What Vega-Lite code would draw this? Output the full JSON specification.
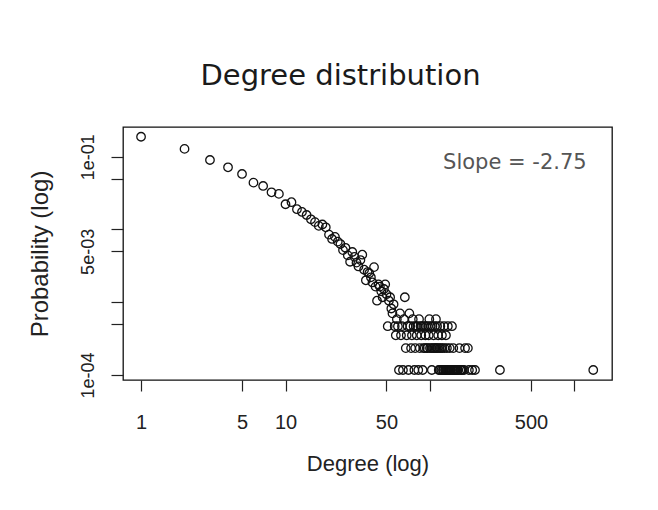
{
  "$schema": "https://vega.github.io/schema/vega-lite/v6.json",
  "width": 489,
  "height": 253,
  "autosize": "none",
  "padding": {"left": 123, "top": 127, "right": 46, "bottom": 130},
  "background": "white",
  "config": {"view": {"stroke": "#111", "strokeWidth": 1.3}},
  "title": {"text": "Degree distribution", "font": "DejaVu Sans", "fontSize": 29, "fontWeight": "normal", "color": "#1a1a1a", "anchor": "middle", "dx": -27, "offset": 36},
  "layer": [
    {
      "data": {"values": [
        {"degree":1,"probability":0.188},{"degree":2,"probability":0.128},{"degree":3,"probability":0.0901},{"degree":4,"probability":0.0715},{"degree":5,"probability":0.0579},{"degree":6,"probability":0.044},{"degree":7,"probability":0.0396},{"degree":8,"probability":0.0324},{"degree":9,"probability":0.0308},{"degree":10,"probability":0.0222},{"degree":11,"probability":0.0237},{"degree":12,"probability":0.019},{"degree":13,"probability":0.0174},{"degree":14,"probability":0.0158},{"degree":15,"probability":0.0138},{"degree":16,"probability":0.0126},{"degree":17,"probability":0.0112},{"degree":18,"probability":0.0117},{"degree":19,"probability":0.0107},{"degree":20,"probability":0.0085},{"degree":21,"probability":0.0074},{"degree":22,"probability":0.0079},{"degree":23,"probability":0.0068},{"degree":24,"probability":0.0063},{"degree":25,"probability":0.0052},{"degree":26,"probability":0.0056},{"degree":27,"probability":0.0044},{"degree":28,"probability":0.0036},{"degree":29,"probability":0.0049},{"degree":30,"probability":0.0042},{"degree":31,"probability":0.0035},{"degree":32,"probability":0.0031},{"degree":33,"probability":0.0038},{"degree":34,"probability":0.0045},{"degree":35,"probability":0.0028},{"degree":36,"probability":0.002},{"degree":37,"probability":0.0026},{"degree":38,"probability":0.0025},{"degree":39,"probability":0.0022},
        {"degree":40,"probability":0.00187},{"degree":41,"probability":0.00304},{"degree":42,"probability":0.00164},{"degree":43,"probability":0.00105},{"degree":44,"probability":0.00176},{"degree":45,"probability":0.00164},{"degree":46,"probability":0.00141},{"degree":47,"probability":0.00117},{"degree":48,"probability":0.00152},{"degree":49,"probability":0.00176},{"degree":50,"probability":0.00129},{"degree":51,"probability":0.000468},{"degree":52,"probability":0.00105},{"degree":53,"probability":0.00117},{"degree":54,"probability":0.00082},{"degree":55,"probability":0.000703},{"degree":56,"probability":0.000937},{"degree":57,"probability":0.000468},{"degree":58,"probability":0.000351},{"degree":59,"probability":0.000585},{"degree":60,"probability":0.000468},
        {"degree":61,"probability":0.000117},{"degree":62,"probability":0.000703},{"degree":63,"probability":0.000351},{"degree":64,"probability":0.000468},{"degree":65,"probability":0.000117},{"degree":66,"probability":0.000585},{"degree":67,"probability":0.00117},{"degree":68,"probability":0.000234},{"degree":69,"probability":0.000351},{"degree":70,"probability":0.000468},{"degree":71,"probability":0.000117},{"degree":72,"probability":0.000703},{"degree":73,"probability":0.000468},{"degree":74,"probability":0.000234},{"degree":75,"probability":0.000351},{"degree":76,"probability":0.000585},{"degree":77,"probability":0.000468},{"degree":78,"probability":0.000117},{"degree":79,"probability":0.000234},{"degree":80,"probability":0.000468},
        {"degree":81,"probability":0.000351},{"degree":82,"probability":0.000468},{"degree":83,"probability":0.000117},{"degree":84,"probability":0.000585},{"degree":85,"probability":0.000234},{"degree":86,"probability":0.000468},{"degree":87,"probability":0.000351},{"degree":88,"probability":0.000468},{"degree":89,"probability":0.000117},{"degree":90,"probability":0.000234},{"degree":91,"probability":0.000468},{"degree":92,"probability":0.000234},{"degree":93,"probability":0.000351},{"degree":94,"probability":0.000468},{"degree":95,"probability":0.000234},{"degree":96,"probability":0.000234},{"degree":97,"probability":0.000468},{"degree":98,"probability":0.000351},{"degree":99,"probability":0.000585},{"degree":100,"probability":0.000234},
        {"degree":101,"probability":0.000468},{"degree":102,"probability":0.000234},{"degree":103,"probability":0.000117},{"degree":104,"probability":0.000468},{"degree":105,"probability":0.000234},{"degree":106,"probability":0.000351},{"degree":107,"probability":0.000234},{"degree":108,"probability":0.000468},{"degree":109,"probability":0.000234},{"degree":110,"probability":0.000585},{"degree":111,"probability":0.000234},{"degree":112,"probability":0.000468},{"degree":113,"probability":0.000234},{"degree":114,"probability":0.000351},{"degree":115,"probability":0.000117},{"degree":116,"probability":0.000234},{"degree":117,"probability":0.000117},{"degree":118,"probability":0.000468},{"degree":119,"probability":0.000234},{"degree":120,"probability":0.000117},
        {"degree":121,"probability":0.000351},{"degree":122,"probability":0.000234},{"degree":123,"probability":0.000117},{"degree":124,"probability":0.000117},{"degree":125,"probability":0.000468},{"degree":126,"probability":0.000234},{"degree":127,"probability":0.000117},{"degree":128,"probability":0.000117},{"degree":129,"probability":0.000351},{"degree":130,"probability":0.000117},{"degree":131,"probability":0.000234},{"degree":132,"probability":0.000117},{"degree":133,"probability":0.000468},{"degree":134,"probability":0.000117},{"degree":135,"probability":0.000117},{"degree":136,"probability":0.000117},{"degree":137,"probability":0.000234},{"degree":138,"probability":0.000117},{"degree":139,"probability":0.000117},{"degree":140,"probability":0.000117},
        {"degree":142,"probability":0.000468},{"degree":143,"probability":0.000117},{"degree":145,"probability":0.000234},{"degree":146,"probability":0.000117},{"degree":148,"probability":0.000117},{"degree":150,"probability":0.000117},{"degree":152,"probability":0.000117},{"degree":155,"probability":0.000117},{"degree":157,"probability":0.000117},{"degree":160,"probability":0.000234},{"degree":162,"probability":0.000117},{"degree":165,"probability":0.000117},{"degree":168,"probability":0.000117},{"degree":172,"probability":0.000117},{"degree":175,"probability":0.000234},{"degree":183,"probability":0.000234},{"degree":186,"probability":0.000117},{"degree":196,"probability":0.000117},{"degree":205,"probability":0.000117},{"degree":305,"probability":0.000117},{"degree":1350,"probability":0.000117}
      ]},
      "mark": {"type": "point", "shape": "circle", "filled": false, "stroke": "#111", "strokeWidth": 1.3, "size": 72, "opacity": 1},
      "encoding": {
        "x": {"field": "degree", "type": "quantitative",
              "scale": {"type": "log", "domain": [0.75, 1820], "nice": false, "zero": false},
              "axis": {"title": "Degree (log)", "values": [1, 5, 10, 50, 100, 500, 1000], "format": "d",
                       "labelExpr": "(datum.value == 100 || datum.value == 1000) ? '' : datum.label",
                       "domain": false, "grid": false, "tickSize": 11, "tickColor": "#222", "tickWidth": 1.2,
                       "labelFont": "Liberation Sans", "labelFontSize": 20, "labelColor": "#222", "labelPadding": 21,
                       "titleFont": "Liberation Sans", "titleFontSize": 22, "titleFontWeight": "normal", "titleColor": "#222", "titlePadding": 21}},
        "y": {"field": "probability", "type": "quantitative",
              "scale": {"type": "log", "domain": [0.0000853, 0.256], "nice": false, "zero": false},
              "axis": {"title": "Probability (log)", "values": [0.1, 0.05, 0.01, 0.005, 0.001, 0.0005, 0.0001],
                       "labelExpr": "datum.value > 0.09 ? '1e-01' : (datum.value > 0.004 && datum.value < 0.006) ? '5e-03' : datum.value < 0.00011 ? '1e-04' : ''",
                       "domain": false, "grid": false, "tickSize": 12, "tickColor": "#222", "tickWidth": 1.2,
                       "labelAngle": -90, "labelAlign": "center", "labelBaseline": "bottom",
                       "labelFont": "Liberation Sans", "labelFontSize": 18, "labelColor": "#222", "labelPadding": 14,
                       "titleFont": "Liberation Sans", "titleFontSize": 24, "titleFontWeight": "normal", "titleColor": "#222", "titlePadding": 27}}
      }
    },
    {
      "data": {"values": [{"label": "Slope = -2.75"}]},
      "mark": {"type": "text", "font": "DejaVu Sans", "fontSize": 21, "color": "#555", "align": "center", "baseline": "middle"},
      "encoding": {
        "x": {"datum": 387, "type": "quantitative"},
        "y": {"datum": 0.082, "type": "quantitative"},
        "text": {"field": "label", "type": "nominal"}
      }
    }
  ]
}
